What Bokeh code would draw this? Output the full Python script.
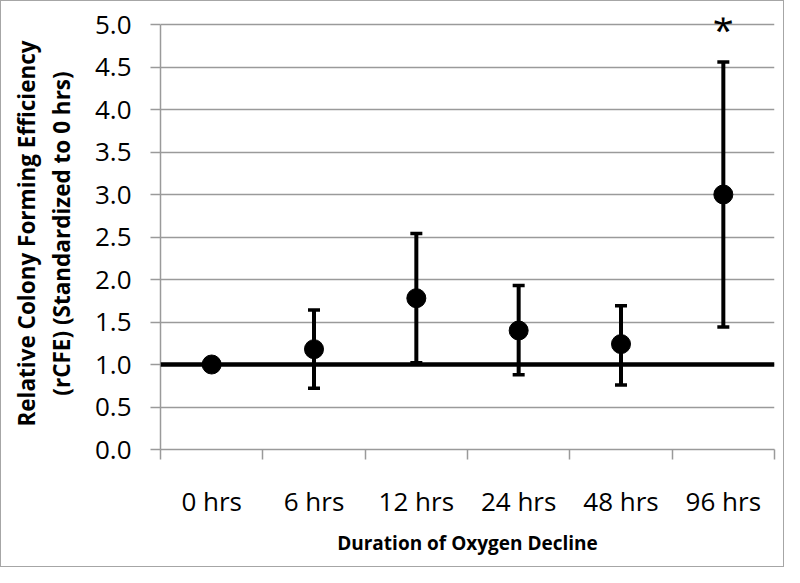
from bokeh.plotting import figure
from bokeh.models import (ColumnDataSource, FixedTicker, Whisker, TeeHead, Span,
                          PrintfTickFormatter, Range1d, LinearAxis)
from bokeh.core.properties import value
from bokeh.embed import file_html
from bokeh.resources import INLINE

# ---- data ----
categories = ["0 hrs", "6 hrs", "12 hrs", "24 hrs", "48 hrs", "96 hrs"]
means = [1.0, 1.18, 1.78, 1.40, 1.24, 3.00]
err_upper = [None, 1.64, 2.54, 1.93, 1.69, 4.56]
err_lower = [None, 0.72, 1.02, 0.88, 0.76, 1.44]
y_ticks = [0.0, 0.5, 1.0, 1.5, 2.0, 2.5, 3.0, 3.5, 4.0, 4.5, 5.0]
y_max = 5.0
reference_level = 1.0
signif_category = "96 hrs"
signif_y = 4.945
y_title_lines = ["Relative Colony Forming Efficiency", "(rCFE) (Standardized to 0 hrs)"]
x_title = "Duration of Oxygen Decline"

FONT = "Open Sans"
W, H = 784, 567
HEADROOM = 7          # px of frame above the top gridline, so the "*" is not clipped
PX_PER_UNIT = 85

xpos = [i + 0.5 for i in range(len(categories))]

p = figure(width=W, height=H, output_backend="svg", toolbar_location=None,
           x_range=Range1d(0, len(categories)),
           y_range=Range1d(0, y_max + HEADROOM / PX_PER_UNIT),
           min_border_left=159, min_border_right=11, min_border_top=23 - HEADROOM,
           min_border_bottom=119)
p.styles = {"border": "1px solid #a6a6a6"}
p.outline_line_color = None
p.background_fill_color = "white"
p.border_fill_color = "white"

# grid
p.xgrid.grid_line_color = None
p.ygrid.grid_line_color = "#9a9a9a"
p.ygrid.grid_line_width = 1.5

# y axis
p.yaxis.ticker = FixedTicker(ticks=y_ticks)
p.yaxis.bounds = (0, y_max)
p.yaxis.formatter = PrintfTickFormatter(format="%.1f")
p.yaxis.axis_line_color = "#9a9a9a"
p.yaxis.axis_line_width = 1.5
p.yaxis.major_tick_line_color = "#9a9a9a"
p.yaxis.major_tick_line_width = 1.5
p.yaxis.major_tick_out = 10
p.yaxis.major_tick_in = 0
p.yaxis.minor_tick_line_color = None
p.yaxis.major_label_text_font = FONT
p.yaxis.major_label_text_font_size = "26px"
p.yaxis.major_label_text_color = "black"
p.yaxis.major_label_standoff = 19
p.yaxis.axis_label = y_title_lines[1]
p.yaxis.axis_label_text_font = FONT
p.yaxis.axis_label_text_font_style = "bold"
p.yaxis.axis_label_text_font_size = "22.5px"
p.yaxis.axis_label_text_color = "black"
p.yaxis.axis_label_standoff = 15

# outer (label-only) axis carrying the first line of the y title
outer = LinearAxis(ticker=FixedTicker(ticks=[]), axis_line_color=None,
                   major_tick_line_color=None, minor_tick_line_color=None,
                   major_tick_out=0, minor_tick_out=0, major_label_standoff=0,
                   axis_label=y_title_lines[0], axis_label_standoff=1,
                   axis_label_text_font=FONT, axis_label_text_font_style="bold",
                   axis_label_text_font_size="22.5px", axis_label_text_color="black")
p.add_layout(outer, "left")

# x axis: labels at category centres, ticks at category boundaries
p.xaxis.ticker = FixedTicker(ticks=xpos, minor_ticks=list(range(len(categories) + 1)))
p.xaxis.major_label_overrides = {x: c for x, c in zip(xpos, categories)}
p.xaxis.major_tick_line_color = None
p.xaxis.major_tick_out = 0
p.xaxis.major_tick_in = 0
p.xaxis.minor_tick_line_color = "#9a9a9a"
p.xaxis.minor_tick_line_width = 1.5
p.xaxis.minor_tick_out = 10
p.xaxis.minor_tick_in = 0
p.xaxis.axis_line_color = "#9a9a9a"
p.xaxis.axis_line_width = 1.5
p.xaxis.major_label_text_font = FONT
p.xaxis.major_label_text_font_size = "26px"
p.xaxis.major_label_text_color = "black"
p.xaxis.major_label_standoff = 23
p.xaxis.axis_label = x_title
p.xaxis.axis_label_text_font = FONT
p.xaxis.axis_label_text_font_style = "bold"
p.xaxis.axis_label_text_font_size = "19px"
p.xaxis.axis_label_text_color = "black"
p.xaxis.axis_label_standoff = 8

# reference line at 1.0
p.add_layout(Span(location=reference_level, dimension="width",
                  line_color="black", line_width=4.5))

# error bars
ex, eu, el = [], [], []
for x, u, l in zip(xpos, err_upper, err_lower):
    if u is not None:
        ex.append(x); eu.append(u); el.append(l)
err_src = ColumnDataSource(dict(x=ex, upper=eu, lower=el))
w = Whisker(source=err_src, base="x", upper="upper", lower="lower",
            line_color="black", line_width=4,
            upper_head=TeeHead(size=12, line_color="black", line_width=3.5),
            lower_head=TeeHead(size=12, line_color="black", line_width=3.5))
p.add_layout(w)

# points
src = ColumnDataSource(dict(x=xpos, y=means))
p.scatter("x", "y", source=src, size=19, color="black")

# significance marker
sxp = xpos[categories.index(signif_category)]
p.text(x=[sxp], y=[signif_y], text=["*"], text_font=value(FONT),
       text_font_size="38px", text_align="center", text_baseline="alphabetic",
       text_color="black")

open("out.html", "w").write(file_html(p, INLINE))
